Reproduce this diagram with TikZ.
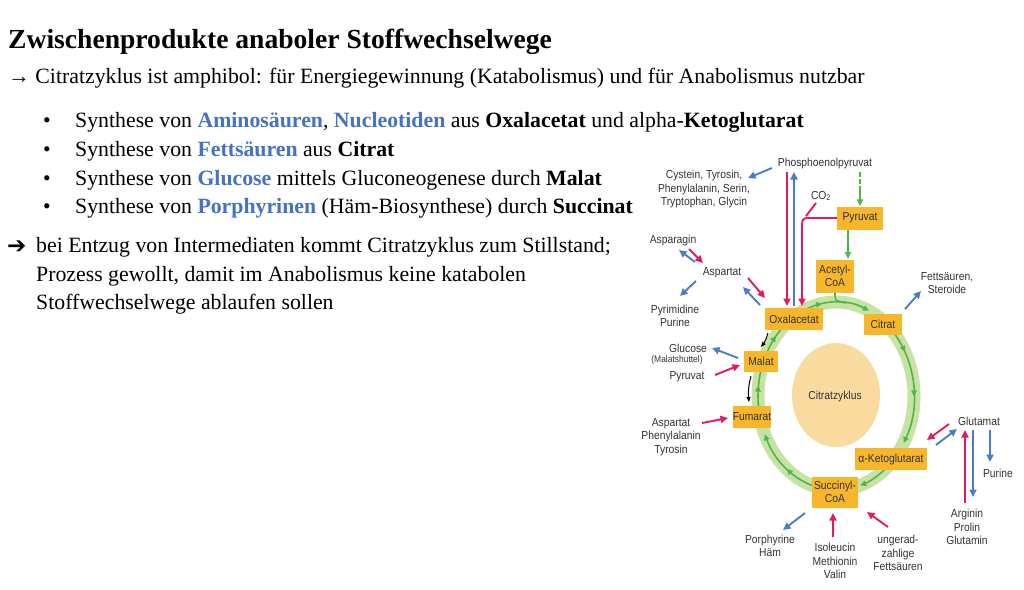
\documentclass[tikz,border=0pt]{standalone}
\usepackage{fontspec}
\setmainfont{Liberation Serif}
\newfontfamily\lbl[FakeStretch=0.89]{Liberation Sans}
\newfontfamily\symfont{DejaVu Sans}
\usetikzlibrary{arrows.meta,decorations.markings}

\definecolor{boxfill}{HTML}{F8B62A}
\definecolor{ringgreen}{HTML}{C8E2A6}
\definecolor{cycgreen}{HTML}{4CB848}
\definecolor{corefill}{HTML}{F9DBA0}
\definecolor{fluxin}{HTML}{E6195F}
\definecolor{fluxout}{HTML}{4A7DC8}
\definecolor{keyblue}{HTML}{4472C4}
\definecolor{labgray}{HTML}{333333}

\newcommand\lblfont{\lbl\fontsize{11.6}{13.4}\selectfont}
\newcommand\bodyfont{\fontsize{21.8}{24}\selectfont}
\newcommand\bluebf[1]{\textcolor{keyblue}{\textbf{#1}}}

\begin{document}
\begin{tikzpicture}[x=1pt,y=-1pt,
  txt/.style={inner sep=0pt, anchor=base west, font=\bodyfont},
  bul/.style={inner sep=0pt, anchor=base, font=\bodyfont},
  metab/.style={fill=boxfill, inner sep=0pt, align=center, font=\lblfont, text=labgray},
  lab/.style={inner sep=0pt, align=center, font=\lblfont, text=labgray},
  tipbig/.tip={Triangle[length=7.5pt,width=7pt]},
  into/.style={draw=fluxin, line width=1.9pt, -tipbig},
  outof/.style={draw=fluxout, line width=1.9pt, -tipbig},
  cyc/.style={draw=cycgreen, line width=1.6pt},
  cyctip/.style={postaction={decorate,decoration={markings,
      mark=at position #1 with {\arrow[cycgreen]{Triangle[length=6pt,width=5.5pt]}}}}},
  rev/.style={draw=black, line width=1pt, -{Triangle[length=5pt,width=4pt]}}
]
\useasboundingbox (0,0) rectangle (1024,589);
\fill[white] (0,0) rectangle (1024,589);

% ---------------- text block ----------------
\node[txt, font=\bfseries\fontsize{27.6}{30}\selectfont] (title) at (8,48)
  {Zwischenprodukte anaboler Stoffwechselwege};
\node[txt] (amphi) at (8,83)
  {→ Citratzyklus ist amphibol: für Energiegewinnung (Katabolismus) und für Anabolismus nutzbar};

\node[bul] (d1) at (47,127) {\textbullet};
\node[txt] (s1) at (75,127) {Synthese von \bluebf{Aminosäuren}, \bluebf{Nucleotiden} aus \textbf{Oxalacetat} und alpha-\textbf{Ketoglutarat}};
\node[bul] (d2) at (47,156) {\textbullet};
\node[txt] (s2) at (75,156) {Synthese von \bluebf{Fettsäuren} aus \textbf{Citrat}};
\node[bul] (d3) at (47,185) {\textbullet};
\node[txt] (s3) at (75,185) {Synthese von \bluebf{Glucose} mittels Gluconeogenese durch \textbf{Malat}};
\node[bul] (d4) at (47,213) {\textbullet};
\node[txt] (s4) at (75,213) {Synthese von \bluebf{Porphyrinen} (Häm-Biosynthese) durch \textbf{Succinat}};

\node[txt, font=\symfont\fontsize{23}{24}\selectfont] (arr) at (7,253) {➔};
\node[txt] (p1) at (36,252) {bei Entzug von Intermediaten kommt Citratzyklus zum Stillstand;};
\node[txt] (p2) at (36,281) {Prozess gewollt, damit im Anabolismus keine katabolen};
\node[txt] (p3) at (36,309) {Stoffwechselwege ablaufen sollen};

% ---------------- citric acid cycle ----------------
\coordinate (cyc) at (836,396);
\draw[ringgreen, line width=13pt] (cyc) ellipse[x radius=78, y radius=94];
\fill[corefill] (836,395) ellipse[x radius=44, y radius=52];
\node[lab] (core) at (835,396) {Citratzyklus};

% cycle reactions along the ring
\draw[cyc, cyctip=0.25, -{Triangle[length=6pt,width=5.5pt]}]
  (cyc) ++(-112:78 and 94) arc[start angle=-112, end angle=-65, x radius=78, y radius=94];
\draw[cyc, cyctip=0.22, cyctip=0.6, -{Triangle[length=6pt,width=5.5pt]}]
  (cyc) ++(-45:78 and 94) arc[start angle=-45, end angle=30, x radius=78, y radius=94];
\draw[cyc, -{Triangle[length=6pt,width=5.5pt]}]
  (cyc) ++(50:78 and 94) arc[start angle=50, end angle=72, x radius=78, y radius=94];
\draw[cyc, cyctip=0.5, -{Triangle[length=6pt,width=5.5pt]}]
  (cyc) ++(100:78 and 94) arc[start angle=100, end angle=156, x radius=78, y radius=94];
\draw[cyc, cyctip=0.6]
  (cyc) ++(172:78 and 94) arc[start angle=172, end angle=196, x radius=78, y radius=94];
\draw[cyc, cyctip=0.6]
  (cyc) ++(205:78 and 94) arc[start angle=205, end angle=230, x radius=78, y radius=94];

% intermediates
\node[metab, minimum width=46, minimum height=23] (pyr) at (860,218) {Pyruvat};
\node[metab, minimum width=38, minimum height=33] (acoa) at (835,276) {Acetyl-\\CoA};
\node[metab, minimum width=58, minimum height=22] (oxal) at (794,319) {Oxalacetat};
\node[metab, minimum width=38, minimum height=21] (cit) at (883,324) {Citrat};
\node[metab, minimum width=34, minimum height=21] (mal) at (761,361) {Malat};
\node[metab, minimum width=38, minimum height=22] (fum) at (752,417) {Fumarat};
\node[metab, minimum width=72, minimum height=22] (akg) at (891,459) {α-Ketoglutarat};
\node[metab, minimum width=46, minimum height=31] (succ) at (835,492) {Succinyl-\\CoA};

% acetyl-CoA enters the cycle
\draw[cyc] (acoa.south) .. controls (835,301) .. (846,303);

% reverse steps outside the ring
\coordinate (k1) at (768,333);
\coordinate (k2) at (761,347);
\coordinate (k3) at (751,376);
\coordinate (k4) at (749,402);
\draw[rev] (k1) to[bend left=10] (k2);
\draw[rev] (k3) to[bend right=10] (k4);

% ---------------- labels ----------------
\node[lab] (pep) at (825,163) {Phosphoenolpyruvat};
\node[lab] (cys) at (704,189) {Cystein, Tyrosin,\\Phenylalanin, Serin,\\Tryptophan, Glycin};
\node[lab] (co2) at (821,196) {CO\textsubscript{2}};
\node[lab] (asn) at (673,240) {Asparagin};
\node[lab] (asp) at (722,273) {Aspartat};
\node[lab] (pyrim) at (675,316) {Pyrimidine\\Purine};
\node[lab] (glc) at (688,348) {Glucose};
\node[lab, font=\lbl\fontsize{9.5}{11}\selectfont] (shut) at (677,360) {(Malatshuttel)};
\node[lab] (pyrlab) at (687,377) {Pyruvat};
\node[lab] (aspb) at (671,437) {Aspartat\\Phenylalanin\\Tyrosin};
\node[lab] (porph) at (770,546) {Porphyrine\\Häm};
\node[lab] (ile) at (835,561) {Isoleucin\\Methionin\\Valin};
\node[lab] (odd) at (898,553) {ungerad-\\zahlige\\Fettsäuren};
\node[lab] (fa) at (947,283) {Fettsäuren,\\Steroide};
\node[lab] (glu) at (979,421) {Glutamat};
\node[lab] (pur) at (998,473) {Purine};
\node[lab] (arg) at (967,527) {Arginin\\Prolin\\Glutamin};

% ---------------- connector end points ----------------
\coordinate (c1) at (772,168);  \coordinate (c2) at (748,178);
\coordinate (v1a) at (787,172); \coordinate (v1b) at (787,306);
\coordinate (v2a) at (794,306); \coordinate (v2b) at (794,172);
\coordinate (pj) at (810,218);  \coordinate (v3b) at (802,306);
\coordinate (co2a) at (816,203); \coordinate (co2b) at (806,216);
\coordinate (g0) at (860,172);  \coordinate (g1) at (860,186);
\coordinate (g2) at (848,230);  \coordinate (g3) at (848,259);
\coordinate (n1) at (695,262);  \coordinate (n2) at (679,250);
\coordinate (n3) at (689,249);  \coordinate (n4) at (703,263);
\coordinate (y1) at (696,281);  \coordinate (y2) at (680,296);
\coordinate (o1) at (760,305);  \coordinate (o2) at (743,287);
\coordinate (o3) at (748,278);  \coordinate (o4) at (765,298);
\coordinate (m1) at (738,358);  \coordinate (m2) at (712,348);
\coordinate (m3) at (715,375);  \coordinate (m4) at (740,365);
\coordinate (f1) at (702,423);  \coordinate (f2) at (728,418);
\coordinate (h1) at (805,513);  \coordinate (h2) at (783,530);
\coordinate (i1) at (833,537);  \coordinate (i2) at (833,513);
\coordinate (u1) at (888,527);  \coordinate (u2) at (867,512);
\coordinate (t1) at (905,309);  \coordinate (t2) at (921,291);
\coordinate (q1) at (949,424);  \coordinate (q2) at (927,440);
\coordinate (q3) at (936,445);  \coordinate (q4) at (957,429);
\coordinate (r1) at (965,503);  \coordinate (r2) at (965,430);
\coordinate (r3) at (973,430);  \coordinate (r4) at (973,497);
\coordinate (r5) at (990,430);  \coordinate (r6) at (990,462);

% ---------------- connectors ----------------
% around phosphoenolpyruvate and pyruvate
\draw[outof] (c1) -- (c2);
\draw[into] (v1a) -- (v1b);
\draw[outof] (v2a) -- (v2b);
\draw[draw=fluxin, line width=1.9pt] (co2a) -- (co2b);
\draw[into] (pyr.west) -- (pj) .. controls (802,218) .. (802,232) -- (v3b);
\draw[cyc, dash pattern=on 5pt off 2pt] (g0) -- (g1);
\draw[cyc, -{Triangle[length=7pt,width=6pt]}] (g1) -- (pyr.north);
\draw[cyc, -{Triangle[length=7pt,width=6pt]}] (g2) -- (g3);

% aspartate family
\draw[outof] (n1) -- (n2);
\draw[into] (n3) -- (n4);
\draw[outof] (y1) -- (y2);
\draw[outof] (o1) -- (o2);
\draw[into] (o3) -- (o4);

% malate, fumarate
\draw[outof] (m1) -- (m2);
\draw[into] (m3) -- (m4);
\draw[into] (f1) -- (f2);

% succinyl-CoA
\draw[outof] (h1) -- (h2);
\draw[into] (i1) -- (i2);
\draw[into] (u1) -- (u2);

% citrate, alpha-ketoglutarate
\draw[outof] (t1) -- (t2);
\draw[into] (q1) -- (q2);
\draw[outof] (q3) -- (q4);
\draw[into] (r1) -- (r2);
\draw[outof] (r3) -- (r4);
\draw[outof] (r5) -- (r6);
\end{tikzpicture}
\end{document}
